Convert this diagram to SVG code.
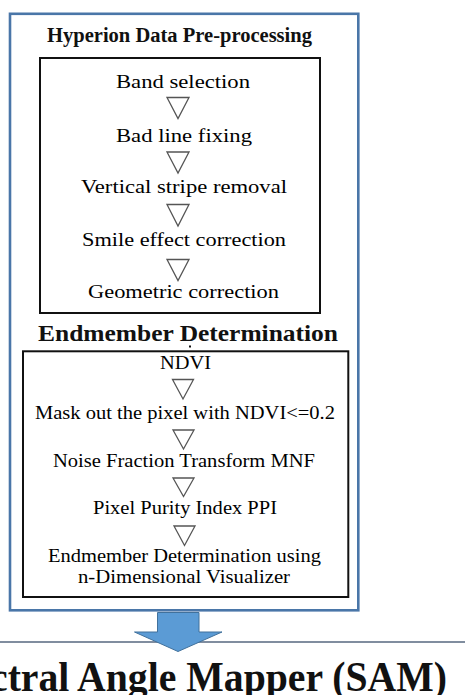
<svg xmlns="http://www.w3.org/2000/svg" width="465" height="695" viewBox="0 0 465 695">
<style>
.t{font-family:"Liberation Serif","Times New Roman",serif;font-size:19.5px;fill:#000;text-anchor:middle}
.b{font-family:"Liberation Serif","Times New Roman",serif;font-weight:bold;fill:#111;text-anchor:middle}
.box{fill:none;stroke:#111;stroke-width:2}
.tri{fill:#fff;stroke:#555;stroke-width:1.3;stroke-linejoin:miter}
</style>
<rect width="465" height="695" fill="#fff"/>
<g id="outer">
<rect x="10" y="13.8" width="348.3" height="596.5" fill="none" stroke="#4a76a8" stroke-width="2.6"/>
</g>
<g id="preprocessing">
<text class="b" x="179.5" y="42" font-size="20" textLength="265" lengthAdjust="spacingAndGlyphs">Hyperion Data Pre-processing</text>
<rect class="box" x="40" y="58" width="280" height="255"/>
<text class="t" x="183" y="88" textLength="134" lengthAdjust="spacingAndGlyphs">Band selection</text>
<text class="t" x="184" y="142" textLength="136" lengthAdjust="spacingAndGlyphs">Bad line fixing</text>
<text class="t" x="184" y="193" textLength="206" lengthAdjust="spacingAndGlyphs">Vertical stripe removal</text>
<text class="t" x="184" y="246" textLength="204" lengthAdjust="spacingAndGlyphs">Smile effect correction</text>
<text class="t" x="183.5" y="298" textLength="191" lengthAdjust="spacingAndGlyphs">Geometric correction</text>
</g>
<g id="endmember">
<text class="b" x="188" y="341" font-size="24" textLength="300" lengthAdjust="spacingAndGlyphs">Endmember Determination</text>
<rect x="189" y="345.5" width="2" height="2" fill="#111"/>
<rect class="box" x="23" y="351.3" width="325.3" height="245.7"/>
<text class="t" x="185.5" y="369" textLength="51" lengthAdjust="spacingAndGlyphs">NDVI</text>
<text class="t" x="185" y="419" textLength="300" lengthAdjust="spacingAndGlyphs">Mask out the pixel with NDVI&lt;=0.2</text>
<text class="t" x="184" y="467" textLength="262" lengthAdjust="spacingAndGlyphs">Noise Fraction Transform MNF</text>
<text class="t" x="185" y="514" textLength="184" lengthAdjust="spacingAndGlyphs">Pixel Purity Index PPI</text>
<text class="t" x="184.5" y="562" textLength="273" lengthAdjust="spacingAndGlyphs">Endmember Determination using</text>
<text class="t" x="184" y="583" textLength="212" lengthAdjust="spacingAndGlyphs">n-Dimensional Visualizer</text>
</g>
<g id="sam">
<line x1="0" y1="642" x2="465" y2="642" stroke="#56677f" stroke-width="1.5"/>
<text class="b" x="-10" y="691" font-size="42" style="text-anchor:start" textLength="457" lengthAdjust="spacingAndGlyphs">ctral Angle Mapper (SAM)</text>
</g>
<g id="connectors">
<polygon class="tri" points="167,97.5 189,97.5 178,118.5"/>
<polygon class="tri" points="167,152 189,152 178,173"/>
<polygon class="tri" points="167,204.5 189,204.5 178,226"/>
<polygon class="tri" points="167,259.5 189,259.5 178,280.5"/>
<polygon class="tri" points="172.5,379.5 193.5,379.5 183,399"/>
<polygon class="tri" points="173,430 194,430 183.5,449"/>
<polygon class="tri" points="173,478 194,478 183.5,496.5"/>
<polygon class="tri" points="174,526 195,526 184.5,545.5"/>
<polygon points="157.5,612.5 199,612.5 199,632 222,632 178,651.5 134.5,632 157.5,632" fill="#5b9bd5" stroke="#41719c" stroke-width="1"/>
</g>
</svg>
